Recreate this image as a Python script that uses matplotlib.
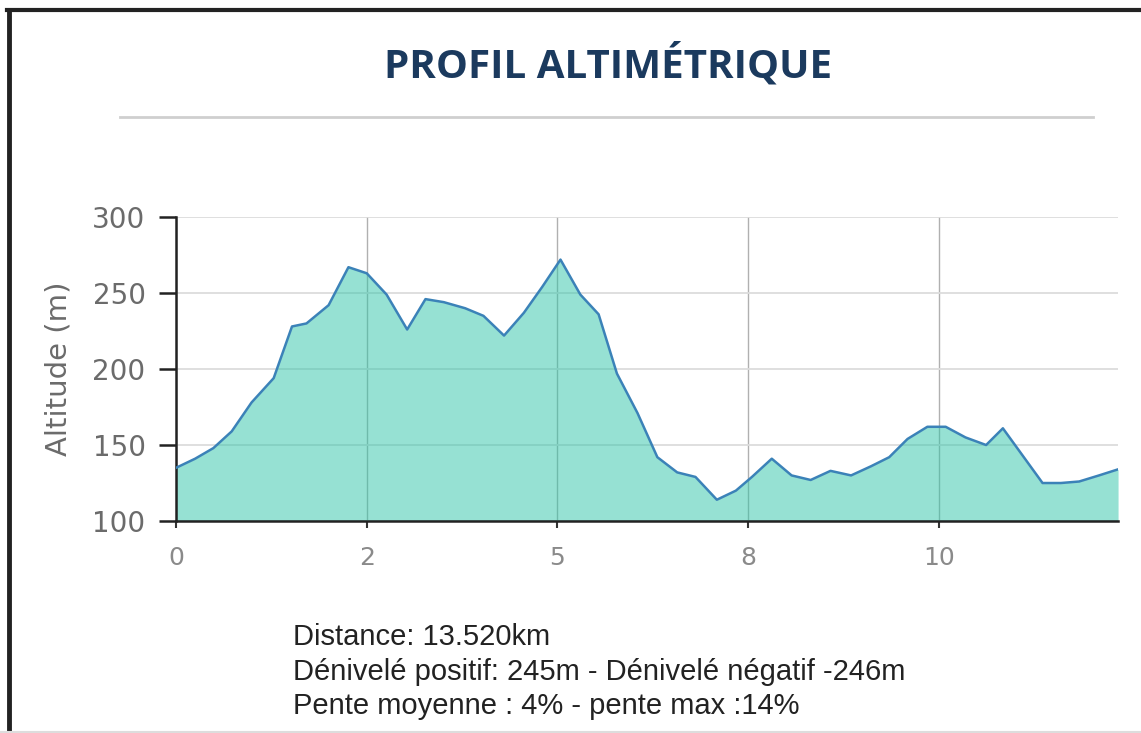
import matplotlib

matplotlib.use("Agg")

import matplotlib.pyplot as plt
from matplotlib.lines import Line2D
from matplotlib.ticker import FuncFormatter

# profile (km, m)
distance_km = [
    0.00, 0.25, 0.49, 0.73, 0.99, 1.28, 1.52, 1.71, 2.00, 2.26,
    2.50, 2.76, 3.03, 3.27, 3.51, 3.79, 4.03, 4.30, 4.56, 4.80,
    5.04, 5.30, 5.54, 5.78, 6.05, 6.31, 6.57, 6.81, 7.09, 7.34,
    7.55, 7.81, 8.07, 8.32, 8.58, 8.85, 9.11, 9.35, 9.59, 9.85,
    10.09, 10.35, 10.62, 10.84, 11.10, 11.36, 11.60, 11.84, 12.10, 12.35,
]
altitude_m = [
    135, 141, 148, 159, 178, 194, 228, 230, 242, 267,
    263, 249, 226, 246, 244, 240, 235, 222, 237, 254,
    272, 249, 236, 197, 171, 142, 132, 129, 114, 120,
    129, 141, 130, 127, 133, 130, 136, 142, 154, 162,
    162, 155, 150, 161, 143, 125, 125, 126, 130, 134,
]
x_ticks = [0, 2.5, 5, 7.5, 10]
y_ticks = [100, 150, 200, 250, 300]

title = "PROFIL ALTIMÉTRIQUE"
info_lines = [
    "Distance: 13.520km",
    "Dénivelé positif: 245m - Dénivelé négatif -246m",
    "Pente moyenne : 4% - pente max :14%",
]

fig = plt.figure(figsize=(11.41, 7.33), dpi=100)
ax = fig.add_axes([0.1543, 0.2892, 0.8256, 0.4147])

ax.fill_between(distance_km, altitude_m, 100, color="#2fc4a8", alpha=0.5,
                linewidth=0, zorder=2)
ax.plot(distance_km, altitude_m, color="#3b82b8", linewidth=1.8, zorder=3)

ax.set_xlim(0, distance_km[-1])
ax.set_ylim(100, 300)
ax.set_xticks(x_ticks)
ax.set_yticks(y_ticks)
ax.xaxis.set_major_formatter(FuncFormatter(lambda v, _: f"{round(v)}"))

ax.grid(True, axis="y", color="#dcdcdc", linewidth=1.3, zorder=1)
ax.grid(True, axis="x", color="#b0b0b0", linewidth=1.0, zorder=1)
ax.set_axisbelow(True)

for side in ("top", "right"):
    ax.spines[side].set_visible(False)
for side in ("left", "bottom"):
    ax.spines[side].set_color("#222222")
    ax.spines[side].set_linewidth(1.8)

ax.tick_params(axis="y", length=12, width=1.8, color="#222222",
               labelcolor="#6b6b6b", labelsize=20, pad=10)
ax.tick_params(axis="x", length=5, width=1.5, color="#333333",
               labelcolor="#8a8a8a", labelsize=18, pad=13)
ax.set_ylabel("Altitude (m)", color="#6b6b6b", fontsize=21, labelpad=14)

fig.text(0.533, 0.911, title, ha="center", va="center", fontsize=29,
         fontweight="bold", family="Open Sans", color="#1b3a5e")
fig.add_artist(Line2D([0.105, 0.958], [0.840, 0.840], color="#cfcfcf",
                      linewidth=2, transform=fig.transFigure))

# window frame of the screenshot
fig.add_artist(Line2D([0.006, 1.0], [0.9864, 0.9864], color="#222222",
                      linewidth=3, transform=fig.transFigure))
fig.add_artist(Line2D([0.0075, 0.0075], [0.0, 0.9864], color="#222222",
                      linewidth=3.5, transform=fig.transFigure))
fig.add_artist(Line2D([0.0, 1.0], [0.002, 0.002], color="#dddddd",
                      linewidth=1.5, transform=fig.transFigure))

for i, line in enumerate(info_lines):
    fig.text(0.2568, 0.131 - i * 0.0471, line, ha="left", va="center",
             fontsize=21, family="Liberation Sans", color="#222222")

fig.savefig("out.png", dpi=100)
plt.close(fig)
